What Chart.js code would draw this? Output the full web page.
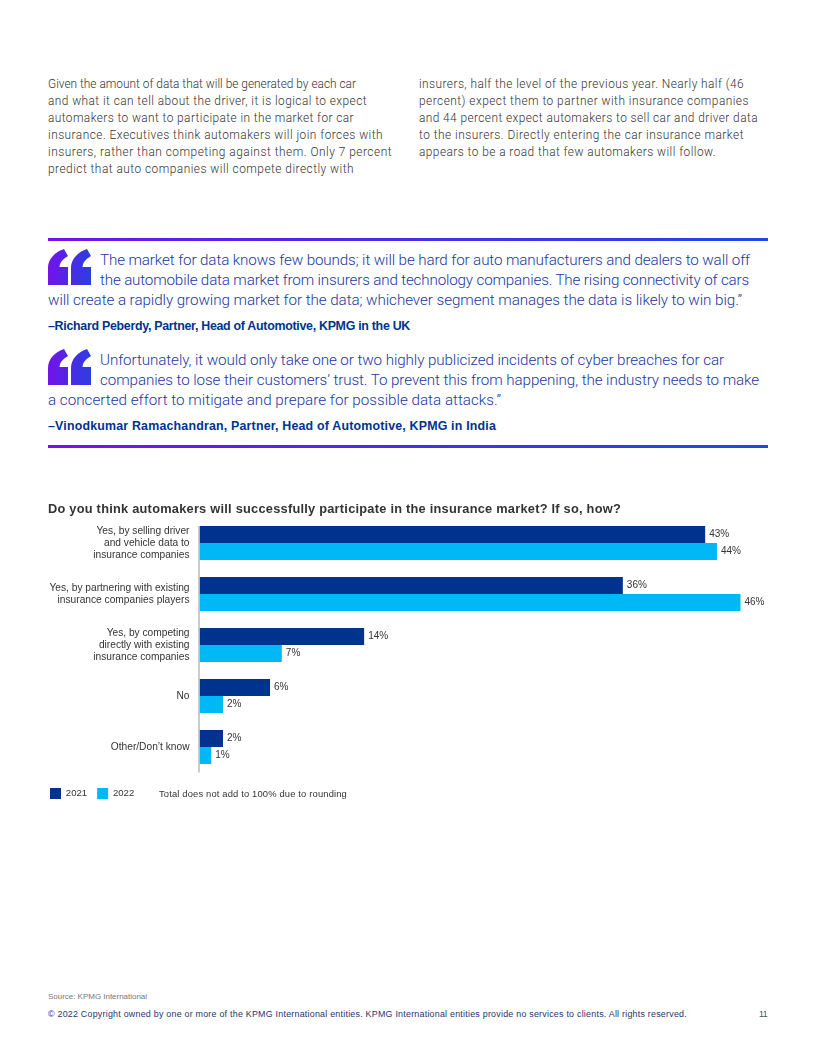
<!DOCTYPE html>
<html><head><meta charset="utf-8">
<script src="https://cdn.jsdelivr.net/npm/chart.js@4"></script>
<style>
html,body{margin:0;padding:0;background:#fff}
#page{position:relative;width:816px;height:1056px;overflow:hidden}
.t{position:absolute;white-space:nowrap;line-height:1;transform:translateY(-50%)}
.body{font:300 11.9px Roboto,"Liberation Sans",sans-serif;color:#333}
.quote{font:300 15.2px Roboto,"Liberation Sans",sans-serif;color:#1a37a0}
.attr{font:bold 12.4px "Liberation Sans",sans-serif;color:#00338D}
.title{font:bold 12.8px "Liberation Sans",sans-serif;color:#333}
.src{font:8px "Liberation Sans",sans-serif;color:#777}
.foot{font:8.9px "Liberation Sans",sans-serif;color:#1f3370}
.note{font:9.4px "Liberation Sans",sans-serif;color:#333}
.num{font:8.9px "Liberation Sans",sans-serif;color:#555}
.rule{position:absolute;left:48px;width:720px;height:3px;background:linear-gradient(90deg,#7213EA,#1E49E2)}
svg.q{position:absolute;left:48px;width:43px;height:36px}
#wrap{position:absolute;left:40px;top:502px;width:750px;height:307px}
</style></head><body>
<div id="page">
<div class="rule" style="top:238px"></div>
<div class="rule" style="top:445px"></div>
<svg class="q" style="top:249px" viewBox="0 0 43 36"><defs><linearGradient id="g" x1="0" x2="1" y1="0" y2="0"><stop offset="0" stop-color="#7213EA"/><stop offset="1" stop-color="#2A3FE0"/></linearGradient></defs><path fill="url(#g)" d="M0 36V19C0 10 7 3 16 0L20 7C15 10 12 13 11.5 18H20V36ZM23 36V19C23 10 30 3 39 0L43 7C38 10 35 13 34.5 18H43V36Z"/></svg>
<svg class="q" style="top:349px" viewBox="0 0 43 36"><path fill="url(#g)" d="M0 36V19C0 10 7 3 16 0L20 7C15 10 12 13 11.5 18H20V36ZM23 36V19C23 10 30 3 39 0L43 7C38 10 35 13 34.5 18H43V36Z"/></svg>
<div id="wrap"><canvas id="c"></canvas></div>
</div>
<script>
const categories=[["Yes, by selling driver","and vehicle data to","insurance companies"],["Yes, by partnering with existing","insurance companies players"],["Yes, by competing","directly with existing","insurance companies"],["No"],["Other/Don\u2019t know"]];
const seriesNames=["2021","2022"];
const values2021=[43,36,14,6,2];
const values2022=[44,46,7,2,1];
const textLines=[
["body",48,84,356,"Given the amount of data that will be generated by each car"],
["body",48,101,367,"and what it can tell about the driver, it is logical to expect"],
["body",48,118,354,"automakers to want to participate in the market for car"],
["body",48,135,383,"insurance. Executives think automakers will join forces with"],
["body",48,152,392,"insurers, rather than competing against them. Only 7 percent"],
["body",48,169,354,"predict that auto companies will compete directly with"],
["body",419,84,744,"insurers, half the level of the previous year. Nearly half (46"],
["body",419,101,749,"percent) expect them to partner with insurance companies"],
["body",419,118,758,"and 44 percent expect automakers to sell car and driver data"],
["body",419,135,744,"to the insurers. Directly entering the car insurance market"],
["body",419,152,716,"appears to be a road that few automakers will follow."],
["quote",100,260,750,"The market for data knows few bounds; it will be hard for auto manufacturers and dealers to wall off"],
["quote",100,280,749,"the automobile data market from insurers and technology companies. The rising connectivity of cars"],
["quote",48,300,742,"will create a rapidly growing market for the data; whichever segment manages the data is likely to win big.\u201D"],
["attr",48,325.5,410,"\u2013Richard Peberdy, Partner, Head of Automotive, KPMG in the UK"],
["quote",100,360,724,"Unfortunately, it would only take one or two highly publicized incidents of cyber breaches for car"],
["quote",100,380,759,"companies to lose their customers\u2019 trust. To prevent this from happening, the industry needs to make"],
["quote",48,400,501,"a concerted effort to mitigate and prepare for possible data attacks.\u201D"],
["attr",48,425.5,496,"\u2013Vinodkumar Ramachandran, Partner, Head of Automotive, KPMG in India"],
["title",48,508,621,"Do you think automakers will successfully participate in the insurance market? If so, how?"],
["note",159,793,347,"Total does not add to 100% due to rounding"],
["src",48,996,147,"Source: KPMG International"],
["foot",48,1014,687,"\u00A9 2022 Copyright owned by one or more of the KPMG International entities. KPMG International entities provide no services to clients. All rights reserved."],
["num",759,1014,767,"11"]
];
const page=document.getElementById('page');
for(const [cls,x,y,xEnd,s] of textLines){
  const d=document.createElement('div');d.className='t '+cls;d.style.left=x+'px';d.style.top=y+'px';d.textContent=s;page.appendChild(d);
  const w=d.getBoundingClientRect().width;
  d.style.letterSpacing=((xEnd-x-w)/s.length).toFixed(3)+'px';
}
const labelPlugin={id:'barLabels',afterDatasetsDraw(ch){
  const {ctx,chartArea:a}=ch;
  const first=ch.getDatasetMeta(0).data[0];
  ctx.save();ctx.strokeStyle='#999';ctx.lineWidth=1;ctx.beginPath();ctx.moveTo(a.left-0.5,first.y-first.height/2);ctx.lineTo(a.left-0.5,a.bottom);ctx.stroke();
  ctx.font='10px "Liberation Sans",sans-serif';ctx.fillStyle='#333';ctx.textAlign='left';ctx.textBaseline='middle';
  ch.data.datasets.forEach((ds,i)=>{ch.getDatasetMeta(i).data.forEach((b,j)=>{ctx.fillText(ds.data[j]+'%',b.x+4,b.y);});});
  ctx.restore();
}};
new Chart(document.getElementById('c'),{
  type:'bar',
  data:{labels:categories,datasets:[
    {label:seriesNames[0],data:values2021,backgroundColor:'#00338D'},
    {label:seriesNames[1],data:values2022,backgroundColor:'#00B8F5'}]},
  plugins:[labelPlugin],
  options:{indexAxis:'y',responsive:true,maintainAspectRatio:false,animation:false,
    categoryPercentage:0.667,barPercentage:1,
    layout:{padding:{top:15.5,right:2.5,left:0,bottom:0}},
    scales:{
      x:{display:true,min:0,max:50,afterFit(s){s.height=5.5},grid:{display:false},border:{display:false},ticks:{display:false}},
      y:{afterFit(s){s.width=159.5},grid:{display:false},border:{display:false},
         ticks:{color:'#333',padding:2,font:{family:'"Liberation Sans",sans-serif',size:10.2,lineHeight:1.2},autoSkip:false}}
    },
    plugins:{tooltip:{enabled:false},
      legend:{position:'bottom',align:'start',labels:{boxWidth:11,boxHeight:11,padding:10,color:'#333',font:{family:'"Liberation Sans",sans-serif',size:9.6}}}}
  }
});
</script>
</body></html>
